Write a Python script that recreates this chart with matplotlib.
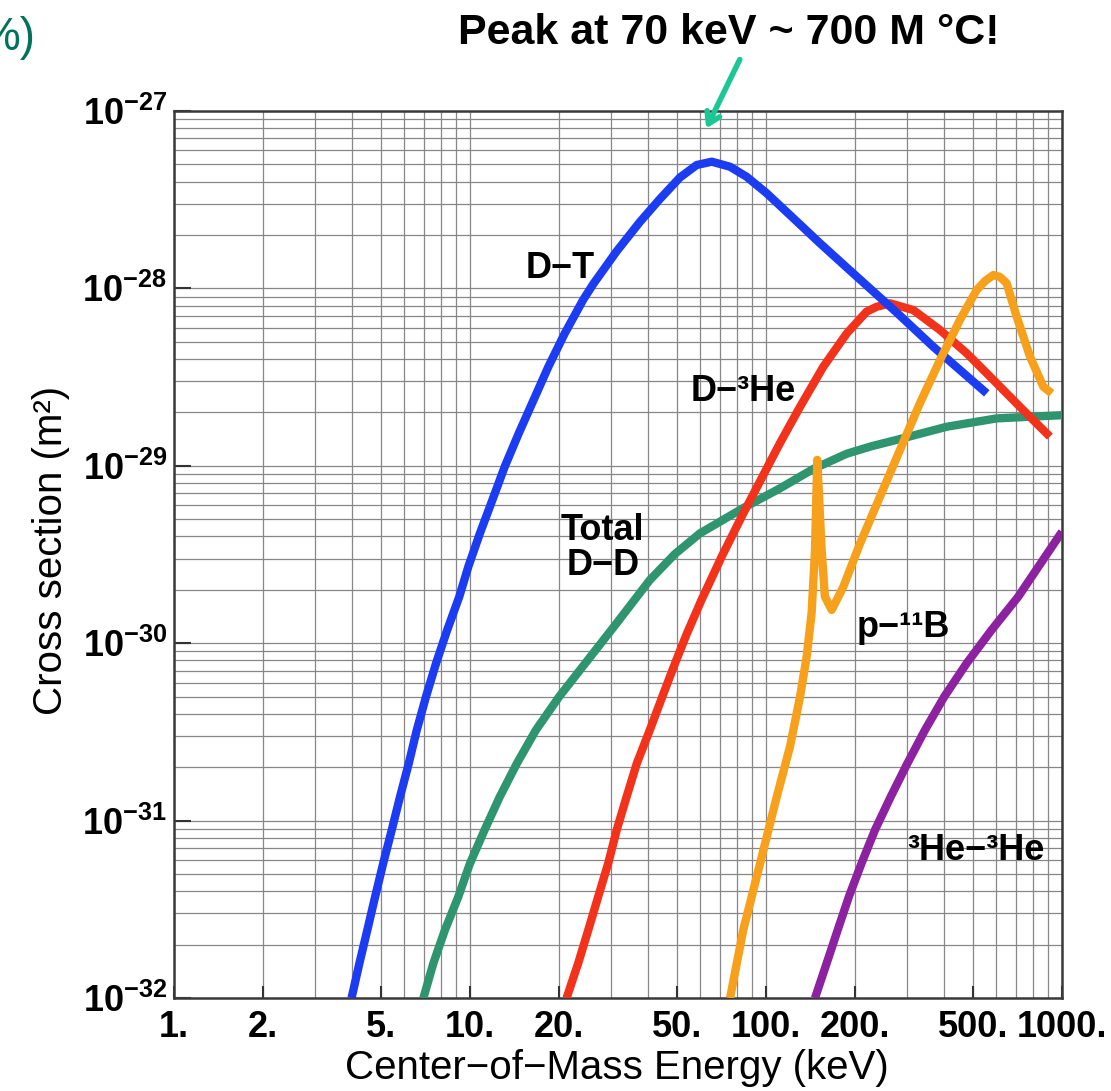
import matplotlib
matplotlib.use('Agg')
import matplotlib.pyplot as plt
from matplotlib import font_manager
from matplotlib.ticker import LogLocator, FixedLocator, NullFormatter
import numpy as np

# ---------------- data ----------------
dt_energy = [3.98, 4.23, 4.50, 4.78, 5.09, 5.44, 5.80, 6.21, 6.61, 7.10, 7.68, 8.38,
             9.20, 9.87, 10.8, 11.9, 13.1, 14.6, 16.4, 18.4, 20.9, 24.1, 26.1, 31.3,
             37.5, 43.8, 51.2, 58.3, 65.6, 75.6, 86.0, 100.5, 123.6, 152, 187.5,
             230.4, 276.4, 367.4, 557]
dt_sigma = [1.0e-32, 1.57e-32, 2.42e-32, 3.72e-32, 5.74e-32, 8.85e-32, 1.36e-31,
            2.10e-31, 3.24e-31, 4.99e-31, 7.71e-31, 1.19e-30, 1.83e-30, 2.70e-30,
            4.16e-30, 6.41e-30, 9.89e-30, 1.52e-29, 2.35e-29, 3.62e-29, 5.58e-29,
            8.61e-29, 1.06e-28, 1.62e-28, 2.37e-28, 3.19e-28, 4.22e-28, 4.96e-28,
            5.18e-28, 4.85e-28, 4.26e-28, 3.44e-28, 2.49e-28, 1.80e-28, 1.31e-28,
            9.61e-29, 7.31e-29, 4.69e-29, 2.56e-29]

dd_energy = [6.96, 7.52, 8.23, 9.13, 10.0, 11.2, 12.6, 14.4, 16.7, 20.0, 24.7, 31.1,
             40.5, 49.2, 59.8, 83.8, 111.4, 144.5, 187.5, 227.5, 276.4, 407.8, 601, 1007]
dd_sigma = [1.0e-32, 1.57e-32, 2.42e-32, 3.72e-32, 5.74e-32, 8.85e-32, 1.36e-31,
            2.10e-31, 3.24e-31, 4.99e-31, 7.83e-31, 1.28e-30, 2.27e-30, 3.18e-30,
            4.16e-30, 5.78e-30, 7.46e-30, 9.60e-30, 1.17e-29, 1.29e-29, 1.40e-29,
            1.66e-29, 1.85e-29, 1.93e-29]

dhe3_energy = [21.2, 23.2, 25.1, 27.1, 29.3, 31.3, 33.8, 36.6, 40.5, 45.0, 49.3,
               54.0, 60.6, 71.0, 83.8, 111.4, 130.3, 156.2, 187.5, 218.8, 236.6, 262.4,
               314.6, 387, 476.5, 586, 721, 910]
dhe3_sigma = [1.0e-32, 1.57e-32, 2.42e-32, 3.72e-32, 5.74e-32, 8.85e-32, 1.36e-31,
              2.10e-31, 3.24e-31, 5.18e-31, 7.71e-31, 1.13e-30, 1.76e-30, 3.10e-30,
              5.39e-30, 1.34e-29, 2.15e-29, 3.62e-29, 5.58e-29, 7.40e-29, 7.88e-29,
              8.24e-29, 7.55e-29, 5.83e-29, 4.31e-29, 3.05e-29, 2.15e-29, 1.46e-29]

pb11_energy = [75.6, 83.8, 95.5, 108.7, 120.5, 130.3, 137.2, 142.6, 146.4, 149.0,
               154.2, 158.1, 166.7, 182.5, 208, 242.7, 283.6, 331, 387, 452, 515,
               549.5, 586, 617, 650, 703, 780, 865, 923]
pb11_sigma = [1.0e-32, 2.42e-32, 5.74e-32, 1.36e-31, 2.61e-31, 4.99e-31, 8.39e-31,
              1.48e-30, 3.35e-30, 1.08e-29, 3.35e-30, 1.83e-30, 1.54e-30, 2.08e-30,
              3.66e-30, 6.70e-30, 1.23e-29, 2.25e-29, 3.94e-29, 6.64e-29, 9.80e-29,
              1.10e-28, 1.19e-28, 1.16e-28, 1.07e-28, 6.92e-29, 4.12e-29, 2.79e-29,
              2.56e-29]

he3he3_energy = [146.4, 160.3, 174.7, 190.5, 210.2, 233.4, 263.7, 300.3, 344.4, 400,
                 476.5, 578.8, 711.6, 1000]
he3he3_sigma = [1.0e-32, 1.57e-32, 2.42e-32, 3.72e-32, 5.74e-32, 8.85e-32, 1.36e-31,
                2.10e-31, 3.24e-31, 4.99e-31, 7.71e-31, 1.19e-30, 1.83e-30, 4.25e-30]

x_ticks = [1, 2, 5, 10, 20, 50, 100, 200, 500, 1000]
x_tick_labels = ['1.', '2.', '5.', '10.', '20.', '50.', '100.', '200.', '500.', '1000.']
y_ticks = [1e-32, 1e-31, 1e-30, 1e-29, 1e-28, 1e-27]
y_tick_labels = [r'$\mathbf{10^{-32}}$', r'$\mathbf{10^{-31}}$', r'$\mathbf{10^{-30}}$',
                 r'$\mathbf{10^{-29}}$', r'$\mathbf{10^{-28}}$', r'$\mathbf{10^{-27}}$']

# ---------------- fonts ----------------
names = {f.name for f in font_manager.fontManager.ttflist}
narrow = 'Liberation Sans Narrow' if 'Liberation Sans Narrow' in names else 'Liberation Sans'

plt.rcParams['font.family'] = ['Liberation Sans', 'DejaVu Sans']
plt.rcParams['mathtext.fontset'] = 'custom'
plt.rcParams['mathtext.rm'] = 'Liberation Sans'
plt.rcParams['mathtext.bf'] = 'Liberation Sans:bold'
plt.rcParams['mathtext.it'] = 'Liberation Sans:italic'

fig = plt.figure(figsize=(11.11, 10.91), dpi=100)
ax = fig.add_axes([174 / 1111, 1 - 998 / 1091, 888 / 1111, 887 / 1091])

ax.set_xscale('log')
ax.set_yscale('log')
ax.set_xlim(1, 1000)
ax.set_ylim(1e-32, 1e-27)

# grid
ax.xaxis.set_minor_locator(LogLocator(base=10, subs=np.arange(1, 10), numticks=50))
ax.yaxis.set_minor_locator(LogLocator(base=10, subs=np.arange(1, 10), numticks=50))
ax.xaxis.set_minor_formatter(NullFormatter())
ax.yaxis.set_minor_formatter(NullFormatter())
ax.grid(True, which='both', color='#878787', lw=0.9)
ax.set_axisbelow(True)

lw = 6
kw = dict(lw=lw, solid_capstyle='butt', solid_joinstyle='round')
ax.plot(dd_energy, dd_sigma, color='#2f9470', zorder=3, **kw)
ax.plot(dhe3_energy, dhe3_sigma, color='#f2321a', zorder=3, **kw)
ax.plot(dt_energy, dt_sigma, color='#1c3cf2', zorder=3, **kw)
ax.plot(pb11_energy, pb11_sigma, color='#f7a01c', zorder=4, **kw)
ax.plot(he3he3_energy, he3he3_sigma, color='#8c22a0', zorder=3, **kw)

ax.xaxis.set_major_locator(FixedLocator(x_ticks))
ax.set_xticklabels(x_tick_labels)
ax.yaxis.set_major_locator(FixedLocator(y_ticks))
ax.set_yticklabels(y_tick_labels)

ax.tick_params(axis='x', which='major', direction='in', length=9, width=1.5,
               color='#333333', pad=8.5, labelsize=26)
ax.tick_params(axis='y', which='major', direction='in', length=12, width=1.5,
               color='#333333', pad=5, labelsize=26)
ax.tick_params(which='minor', length=0)
for lab in ax.get_xticklabels():
    lab.set_fontfamily(narrow)
    lab.set_fontweight('bold')

for s in ax.spines.values():
    s.set_color('#3a3a3a')
    s.set_linewidth(1.8)

ax.set_xlabel('Center\u2212of\u2212Mass Energy (keV)', fontsize=29, family=narrow)
ax.xaxis.set_label_coords(0.499, -0.057)
ax.set_ylabel('Cross section (m\u00b2)', fontsize=29, family=narrow)
ax.yaxis.set_label_coords(-0.117, 0.505)

# curve labels
lab_kw = dict(fontsize=26, fontweight='bold', ha='center', va='center', zorder=6)
ax.text(20.1, 1.29e-28, 'D\u2212T', **lab_kw)
ax.text(83.5, 2.61e-29, 'D\u2212\u00b3He', **lab_kw)
ax.text(28.1, 3.44e-30, 'Total\nD\u2212D', linespacing=0.98, **lab_kw)
ax.text(290, 1.22e-30, 'p\u2212\u00b9\u00b9B', **lab_kw)
ax.text(512, 6.8e-32, '\u00b3He\u2212\u00b3He', **lab_kw)

# title / annotations
fig.text(729 / 1111, 1 - 33 / 1091, 'Peak at 70 keV ~ 700 M \u00b0C!', fontsize=31,
         fontweight='bold', family=narrow, ha='center', va='center')
fig.text(35 / 1111, 1 - 38 / 1091, '%)', fontsize=33, color='#00735a',
         ha='right', va='center')
fig.patches.append(matplotlib.patches.FancyArrowPatch(
    (741 / 1111, 1 - 57 / 1091), (705 / 1111, 1 - 131 / 1091),
    transform=fig.transFigure, arrowstyle='->,head_length=8,head_width=5',
    color='#1cc796', lw=4, zorder=10))

fig.savefig('out.png', dpi=100)
